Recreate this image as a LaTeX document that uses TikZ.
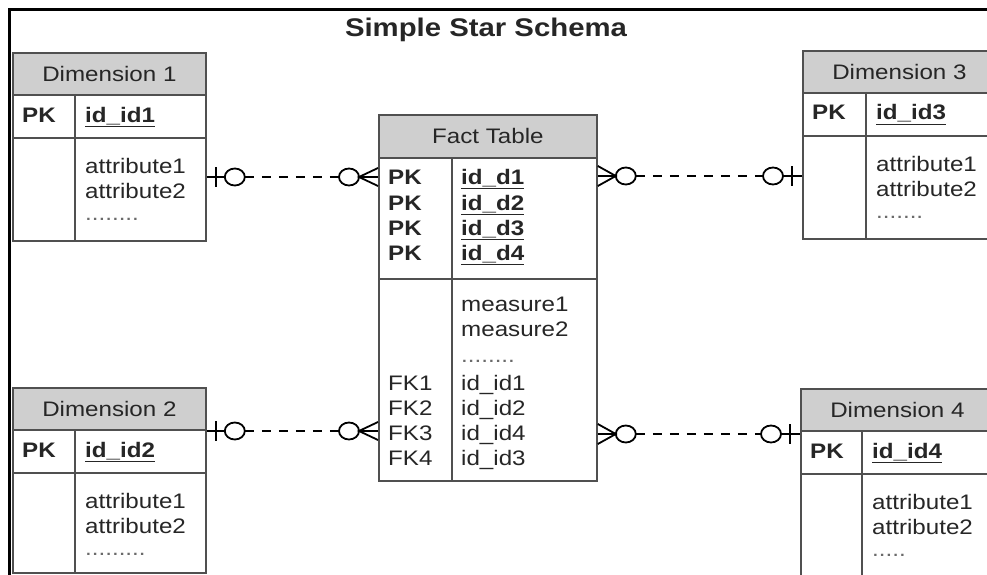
\documentclass[tikz,border=0pt]{standalone}
\usepackage{fontspec}
\newfontfamily\df[FakeStretch=1.15]{Liberation Sans}
\usetikzlibrary{calc}
\definecolor{hdrgray}{HTML}{CFCFCF}
\definecolor{boxline}{HTML}{505050}
\definecolor{txt}{HTML}{262626}
\definecolor{dotc}{HTML}{6A6A6A}

\newcommand\dimtable[8]{%
  \node[hdr, minimum width=193pt, minimum height=42pt] (#1h) at (#2,#3) {#6};
  \node[tbl, minimum width=193pt, minimum height=#4pt] (#1) at (#2,#3) {};
  \draw[sep] ($(#1.north west)+(0,86)$) -- ($(#1.north east)+(0,86)$);
  \draw[sep] ($(#1.north west)+(#5,42)$) -- ($(#1.south west)+(#5,0)$);
  \node[blbl] (#1pk) at ($(#1.north west)+(10,70)$) {PK};
  \node[blbl] (#1key) at ($(#1.north west)+(#5+10,70)$) {\underline{#7}};
  \node[lbl] (#1aa) at ($(#1.north west)+(#5+10,121)$) {attribute1};
  \node[lbl] (#1ab) at ($(#1.north west)+(#5+10,146)$) {attribute2};
  \node[dots] (#1dt) at ($(#1.north west)+(#5+10,168)$) {#8};
}

% dimension on the left, fact on the right
\newcommand\leftlink[3]{%
  \draw[rel] (#1.east|-#3) -- ($(#1.east|-#3)+(18,0)$);
  \draw[rel] ($(#1.east|-#3)+(9,-10)$) -- ($(#1.east|-#3)+(9,10)$);
  \draw[rel] ($(#1.east|-#3)+(28,0)$) ellipse[x radius=10, y radius=8.5];
  \draw[reldash] ($(#1.east|-#3)+(38,0)$) -- ($(#2.west|-#3)+(-39,0)$);
  \draw[rel] ($(#2.west|-#3)+(-29,0)$) ellipse[x radius=10, y radius=8.5];
  \draw[rel] ($(#2.west|-#3)+(-19,0)$) -- (#2.west|-#3);
  \draw[rel] ($(#2.west|-#3)+(0,-9)$) -- ($(#2.west|-#3)+(-19,0)$) -- ($(#2.west|-#3)+(0,9)$);
}

% fact on the left, dimension on the right
\newcommand\rightlink[3]{%
  \draw[rel] ($(#1.east|-#3)+(0,-10)$) -- ($(#1.east|-#3)+(18,0)$) -- ($(#1.east|-#3)+(0,10)$);
  \draw[rel] (#1.east|-#3) -- ($(#1.east|-#3)+(18,0)$);
  \draw[rel] ($(#1.east|-#3)+(28,0)$) ellipse[x radius=10, y radius=8.5];
  \draw[reldash] ($(#1.east|-#3)+(38,0)$) -- ($(#2.west|-#3)+(-39,0)$);
  \draw[rel] ($(#2.west|-#3)+(-29,0)$) ellipse[x radius=10, y radius=8.5];
  \draw[rel] ($(#2.west|-#3)+(-19,0)$) -- (#2.west|-#3);
  \draw[rel] ($(#2.west|-#3)+(-10,-10)$) -- ($(#2.west|-#3)+(-10,10)$);
}

\begin{document}
\begin{tikzpicture}[x=1pt,y=-1pt,
  tbl/.style={draw=boxline, line width=1.8pt, inner sep=0pt, anchor=north west},
  hdr/.style={draw=boxline, line width=1.8pt, fill=hdrgray, inner sep=0pt, anchor=north west,
              text=txt, font=\df\fontsize{21}{25}\selectfont},
  sep/.style={draw=boxline, line width=1.8pt},
  lbl/.style={font=\df\fontsize{21}{25}\selectfont, text=txt, anchor=base west, inner sep=0pt},
  blbl/.style={lbl, font=\df\bfseries\fontsize{21}{25}\selectfont},
  dots/.style={lbl, text=dotc},
  rel/.style={line width=1.8pt, draw=black},
  reldash/.style={rel, dash pattern=on 9pt off 8pt},
]
\useasboundingbox (0,0) rectangle (987,575);
\clip (0,0) rectangle (987,575);
\fill[white] (0,0) rectangle (987,575);

% frame
\draw[line width=3pt] (987,10) -- (9,10) -- (9,580);

% title
\node[font=\df\bfseries\fontsize{25.5}{30}\selectfont, text=txt, anchor=base, inner sep=0pt]
  (title) at (486,37) {Simple Star Schema};

% dimensions
\dimtable{da}{12}{52}{188}{63}{Dimension 1}{id\_id1}{........}
\dimtable{db}{12}{387}{185}{63}{Dimension 2}{id\_id2}{.........}
\dimtable{dc}{802}{50}{188}{64}{Dimension 3}{id\_id3}{.......}
\dimtable{dd}{800}{388}{200}{62}{Dimension 4}{id\_id4}{.....}

% fact table
\node[hdr, minimum width=218pt, minimum height=43pt] (facth) at (378,114) {Fact Table};
\node[tbl, minimum width=218pt, minimum height=366pt] (fact) at (378,114) {};
\draw[sep] ($(fact.north west)+(0,165)$) -- ($(fact.north east)+(0,165)$);
\draw[sep] ($(fact.north west)+(74,43)$) -- ($(fact.south west)+(74,0)$);
\node[blbl] (fpa) at (388,184) {PK};
\node[blbl] (fpb) at (388,210) {PK};
\node[blbl] (fpc) at (388,235) {PK};
\node[blbl] (fpd) at (388,260) {PK};
\node[blbl] (fka) at (461,184) {\underline{id\_d1}};
\node[blbl] (fkb) at (461,210) {\underline{id\_d2}};
\node[blbl] (fkc) at (461,235) {\underline{id\_d3}};
\node[blbl] (fkd) at (461,260) {\underline{id\_d4}};
\node[lbl] (fma) at (461,311) {measure1};
\node[lbl] (fmb) at (461,336) {measure2};
\node[dots] (fdt) at (461,362) {........};
\node[lbl] (ffa) at (388,390) {FK1};
\node[lbl] (ffb) at (388,415) {FK2};
\node[lbl] (ffc) at (388,440) {FK3};
\node[lbl] (ffd) at (388,465) {FK4};
\node[lbl] (fia) at (461,390) {id\_id1};
\node[lbl] (fib) at (461,415) {id\_id2};
\node[lbl] (fic) at (461,440) {id\_id4};
\node[lbl] (fid) at (461,465) {id\_id3};

% relationships
\coordinate (ya) at (0,177);
\coordinate (yb) at (0,431);
\coordinate (yc) at (0,176);
\coordinate (yd) at (0,434);
\leftlink{da}{fact}{ya}
\leftlink{db}{fact}{yb}
\rightlink{fact}{dc}{yc}
\rightlink{fact}{dd}{yd}
\end{tikzpicture}
\end{document}
